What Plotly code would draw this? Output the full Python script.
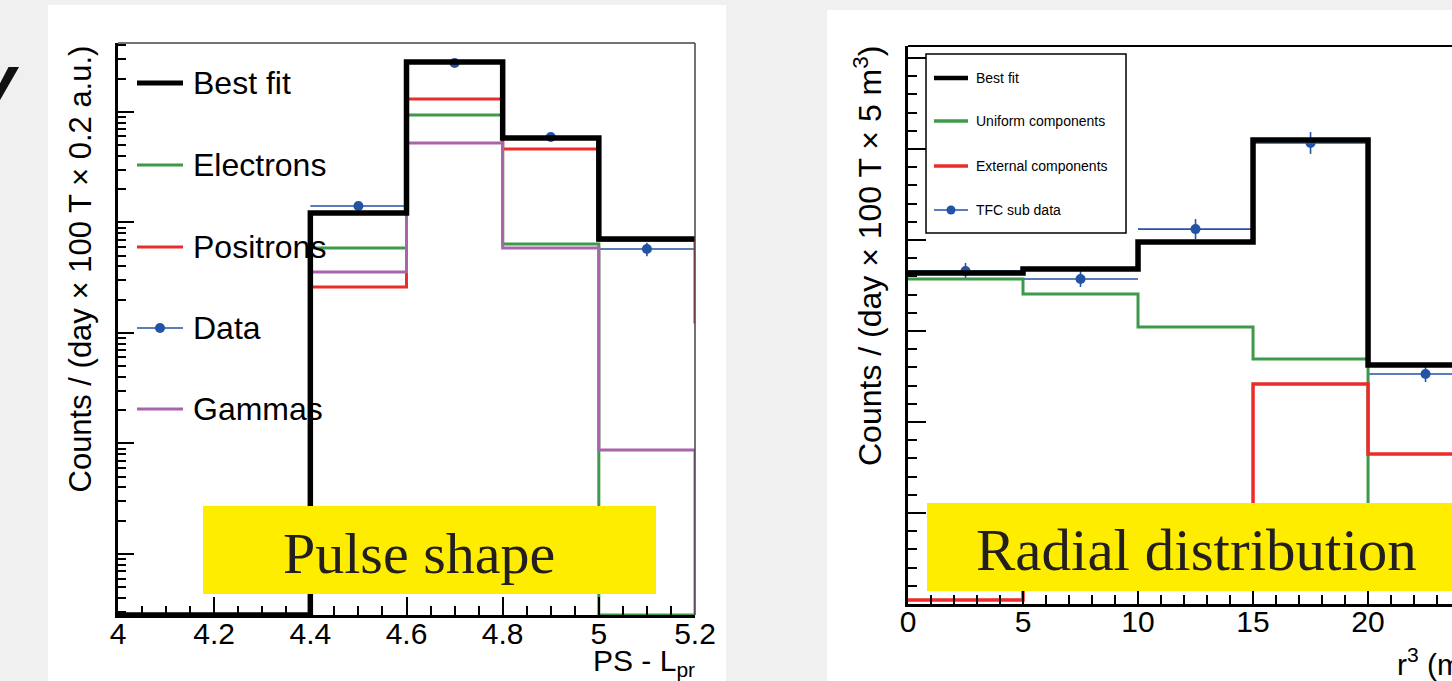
import numpy as np
import plotly.graph_objects as go

W, H = 1452, 681

# ---------------- data: Pulse shape panel (left) ----------------
ps_edges = [4.0, 4.2, 4.4, 4.6, 4.8, 5.0, 5.2, 5.4]
ps_best_fit = [0, 0, 1.22, 28.3, 5.82, 0.71]
ps_electrons = [0, 0, 0.588, 9.39, 0.638, 0, 0]
ps_positrons = [0, 0, 0.261, 13.1, 4.63, 0.69, 0.126]
ps_gammas = [0, 0, 0.356, 5.24, 0.588, 0.00873, 0]
ps_data_x = [4.5, 4.7, 4.9, 5.1]
ps_data_y = [1.41, 27.7, 5.94, 0.575]
ps_data_err = [0.085, 0.83, 0.30, 0.08]
ps_xtick_vals = [4.0, 4.2, 4.4, 4.6, 4.8, 5.0, 5.2]
ps_xtick_text = ["4", "4.2", "4.4", "4.6", "4.8", "5", "5.2"]

# ---------------- data: Radial distribution panel (right) ----------------
rd_edges = [0, 5, 10, 15, 20, 25]
rd_best_fit = [1.819, 1.841, 1.989, 2.549, 1.313]
rd_uniform = [1.786, 1.703, 1.522, 1.346, 0.352]
rd_external = [0.022, 0.269, 0.297, 1.209, 0.824]
rd_data_x = [2.5, 7.5, 12.5, 17.5, 22.5]
rd_data_y = [1.830, 1.786, 2.060, 2.533, 1.264]
rd_data_err = [0.044, 0.044, 0.055, 0.060, 0.044]
rd_xtick_vals = [0, 5, 10, 15, 20, 25]
rd_xtick_text = ["0", "5", "10", "15", "20", "25"]

# ---------------- style ----------------
BLACK = "#000000"
GREEN = "#3d9a4b"
RED = "#ec2b2b"
PURPLE = "#a965a9"
BLUE = "#2353a5"
YELLOW = "#ffed00"
SANS = "Liberation Sans, Arial, sans-serif"
SERIF = "Liberation Serif, Times New Roman, serif"

PS_LOG_RANGE = [-3.552, 1.624]
RD_Y_RANGE = [0, 3.066]
RD_X_RANGE = [0, 23.65]


def px(x):
    return x / W


def py(y):
    return 1 - y / H


def step(edges, values, floor=None):
    vals = list(values)
    if floor is not None:
        vals = [v if v > 0 else floor for v in vals]
    xs = list(edges[: len(vals) + 1])
    ys = vals + [vals[-1]]
    return xs, ys


fig = go.Figure()

# ---- left panel traces ----
floor = 10 ** PS_LOG_RANGE[0]
fig.add_trace(go.Scatter(
    x=ps_data_x, y=ps_data_y, mode="markers",
    marker=dict(color=BLUE, size=10),
    error_x=dict(type="constant", value=0.1, width=0, thickness=1.6, color=BLUE),
    error_y=dict(type="data", array=ps_data_err, width=0, thickness=1.6, color=BLUE),
    xaxis="x", yaxis="y", showlegend=False))
for vals, col, wd in [(ps_electrons, GREEN, 3), (ps_positrons, RED, 3),
                      (ps_gammas, PURPLE, 3), (ps_best_fit, BLACK, 5.5)]:
    xs, ys = step(ps_edges, vals, floor)
    fig.add_trace(go.Scatter(x=xs, y=ys, mode="lines", line=dict(color=col, width=wd, shape="hv"),
                             xaxis="x", yaxis="y", showlegend=False))

# ---- right panel traces ----
fig.add_trace(go.Scatter(
    x=rd_data_x, y=rd_data_y, mode="markers",
    marker=dict(color=BLUE, size=10),
    error_x=dict(type="constant", value=2.5, width=0, thickness=1.6, color=BLUE),
    error_y=dict(type="data", array=rd_data_err, width=0, thickness=1.6, color=BLUE),
    xaxis="x2", yaxis="y2", showlegend=False))
for vals, col, wd in [(rd_uniform, GREEN, 3), (rd_external, RED, 3.5), (rd_best_fit, BLACK, 5.5)]:
    xs, ys = step(rd_edges, vals)
    fig.add_trace(go.Scatter(x=xs, y=ys, mode="lines", line=dict(color=col, width=wd, shape="hv"),
                             xaxis="x2", yaxis="y2", showlegend=False))

tickfont = dict(family=SANS, size=30, color="black")
common = dict(showgrid=False, zeroline=False, showline=True, linecolor="black", automargin=False,
              ticks="inside", tickcolor="black", tickwidth=1.5)

shapes = []
# white panels
shapes.append(dict(type="rect", xref="paper", yref="paper", x0=px(48), x1=px(726), y0=py(681), y1=py(5),
                   fillcolor="white", line=dict(width=0), layer="below"))
shapes.append(dict(type="rect", xref="paper", yref="paper", x0=px(827), x1=px(1460), y0=py(681), y1=py(10),
                   fillcolor="white", line=dict(width=0), layer="below"))
# frames
shapes.append(dict(type="line", xref="x domain", yref="y domain", x0=0, x1=1, y0=1, y1=1,
                   line=dict(color="#444", width=1.5)))
shapes.append(dict(type="line", xref="x domain", yref="y domain", x0=1, x1=1, y0=0, y1=1,
                   line=dict(color="#444", width=1.5)))
shapes.append(dict(type="line", xref="x2 domain", yref="y2 domain", x0=0, x1=1, y0=1, y1=1,
                   line=dict(color="black", width=2)))

annotations = []

# ---- left legend ----
left_legend = [("Best fit", BLACK, 5, False), ("Electrons", GREEN, 3, False),
               ("Positrons", RED, 3, False), ("Data", BLUE, 1.6, True), ("Gammas", PURPLE, 3, False)]
left_legend_y = [83, 165, 247, 328, 409]
for (name, col, wd, dot), yy in zip(left_legend, left_legend_y):
    shapes.append(dict(type="line", xref="paper", yref="paper", x0=px(137), x1=px(183), y0=py(yy), y1=py(yy),
                       line=dict(color=col, width=wd), layer="above"))
    if dot:
        shapes.append(dict(type="circle", xref="paper", yref="paper", x0=px(155), x1=px(165),
                           y0=py(yy + 5), y1=py(yy - 5), fillcolor=col, line=dict(width=0), layer="above"))
    annotations.append(dict(text=name, x=px(191), y=py(yy), xref="paper", yref="paper",
                            xanchor="left", yanchor="middle", showarrow=False,
                            font=dict(family=SANS, size=32, color="black")))

# ---- right legend ----
shapes.append(dict(type="rect", xref="paper", yref="paper", x0=px(926), x1=px(1126), y0=py(233), y1=py(54),
                   fillcolor="white", line=dict(color="black", width=1.5), layer="above"))
right_legend = [("Best fit", BLACK, 4.5, False), ("Uniform components", GREEN, 3.5, False),
                ("External components", RED, 3.5, False), ("TFC sub data", BLUE, 1.5, True)]
right_legend_y = [78, 121, 166, 210]
for (name, col, wd, dot), yy in zip(right_legend, right_legend_y):
    shapes.append(dict(type="line", xref="paper", yref="paper", x0=px(934), x1=px(968), y0=py(yy), y1=py(yy),
                       line=dict(color=col, width=wd), layer="above"))
    if dot:
        shapes.append(dict(type="circle", xref="paper", yref="paper", x0=px(946.5), x1=px(955.5),
                           y0=py(yy + 4.5), y1=py(yy - 4.5), fillcolor=col, line=dict(width=0), layer="above"))
    annotations.append(dict(text=name, x=px(974), y=py(yy), xref="paper", yref="paper",
                            xanchor="left", yanchor="middle", showarrow=False,
                            font=dict(family=SANS, size=14, color="black")))

# ---- yellow label boxes ----
shapes.append(dict(type="rect", xref="paper", yref="paper", x0=px(203), x1=px(656), y0=py(594), y1=py(506),
                   fillcolor=YELLOW, line=dict(width=0), layer="above"))
shapes.append(dict(type="rect", xref="paper", yref="paper", x0=px(927), x1=px(1460), y0=py(591), y1=py(503),
                   fillcolor=YELLOW, line=dict(width=0), layer="above"))
annotations.append(dict(text="Pulse shape", x=px(419), y=py(553), xref="paper", yref="paper",
                        xanchor="center", yanchor="middle", showarrow=False,
                        font=dict(family=SERIF, size=58, color="#231f20")))
annotations.append(dict(text="Radial distribution", x=px(1196), y=py(550), xref="paper", yref="paper",
                        xanchor="center", yanchor="middle", showarrow=False,
                        font=dict(family=SERIF, size=59, color="#231f20")))

# ---- axis titles ----
annotations.append(dict(text="Counts / (day × 100 T × 0.2 a.u.)", x=px(80), y=py(44), xref="paper", yref="paper",
                        xanchor="center", yanchor="top", textangle=-90, showarrow=False,
                        font=dict(family=SANS, size=31, color="black")))
annotations.append(dict(text="Counts / (day × 100 T × 5 m<sup>3</sup>)", x=px(868), y=py(44),
                        xref="paper", yref="paper", xanchor="center", yanchor="top", textangle=-90,
                        showarrow=False, font=dict(family=SANS, size=32, color="black")))
annotations.append(dict(text="PS - L<sub>pr</sub>", x=px(697), y=py(662), xref="paper", yref="paper",
                        xanchor="right", yanchor="middle", showarrow=False,
                        font=dict(family=SANS, size=30, color="black")))
annotations.append(dict(text="r<sup>3</sup> (m<sup>3</sup>)", x=px(1395), y=py(662), xref="paper", yref="paper",
                        xanchor="left", yanchor="middle", showarrow=False,
                        font=dict(family=SANS, size=30, color="black")))
# cut-off title glyph at the top-left of the slide
annotations.append(dict(text="<b><i>y</i></b>", x=px(22), y=py(80), xref="paper", yref="paper",
                        xanchor="right", yanchor="middle", showarrow=False,
                        font=dict(family=SANS, size=72, color="#111")))

fig.update_layout(
    width=W, height=H, autosize=False,
    margin=dict(l=0, r=0, t=0, b=0, pad=0, autoexpand=False),
    paper_bgcolor="#f0f0f0", plot_bgcolor="white",
    showlegend=False,
    xaxis=dict(domain=[px(118), px(695)], range=[4.0, 5.2], anchor="y",
               tickmode="array", tickvals=ps_xtick_vals, ticktext=ps_xtick_text,
               ticklen=18, linewidth=2.5, tickfont=tickfont, ticklabelstandoff=-10,
               minor=dict(tickmode="linear", tick0=4.0, dtick=0.05, ticks="inside", ticklen=9,
                          tickcolor="black", tickwidth=1.5, showgrid=False),
               **common),
    yaxis=dict(domain=[py(615), py(43)], type="log", range=PS_LOG_RANGE, anchor="x",
               tickmode="linear", tick0=0, dtick=1, ticklen=16, linewidth=2.5, showticklabels=False,
               minor=dict(dtick="D1", ticks="inside", ticklen=8, tickcolor="black", tickwidth=1.5,
                          showgrid=False),
               **common),
    xaxis2=dict(domain=[px(908), 1.0], range=RD_X_RANGE, anchor="y2",
                tickmode="array", tickvals=rd_xtick_vals, ticktext=rd_xtick_text,
                ticklen=18, linewidth=2.5, tickfont=tickfont, ticklabelstandoff=-11,
                minor=dict(tickmode="linear", tick0=0, dtick=1, ticks="inside", ticklen=9,
                           tickcolor="black", tickwidth=1.5, showgrid=False),
                **common),
    yaxis2=dict(domain=[py(604), py(46)], range=RD_Y_RANGE, anchor="x2",
                tickmode="linear", tick0=0, dtick=0.5, ticklen=18, linewidth=2.5, showticklabels=False,
                minor=dict(tickmode="linear", tick0=0, dtick=0.1, ticks="inside", ticklen=9,
                           tickcolor="black", tickwidth=1.5, showgrid=False),
                **common),
    shapes=shapes,
    annotations=annotations,
)

post = (
    "document.documentElement.style.margin='0';document.documentElement.style.padding='0';"
    "document.documentElement.style.overflow='hidden';"
    "document.body.style.margin='0';document.body.style.padding='0';document.body.style.overflow='hidden';"
)

fig.write_html("out.html", config={"responsive": False, "displayModeBar": False},
               default_width="1452px", default_height="681px", post_script=post)
